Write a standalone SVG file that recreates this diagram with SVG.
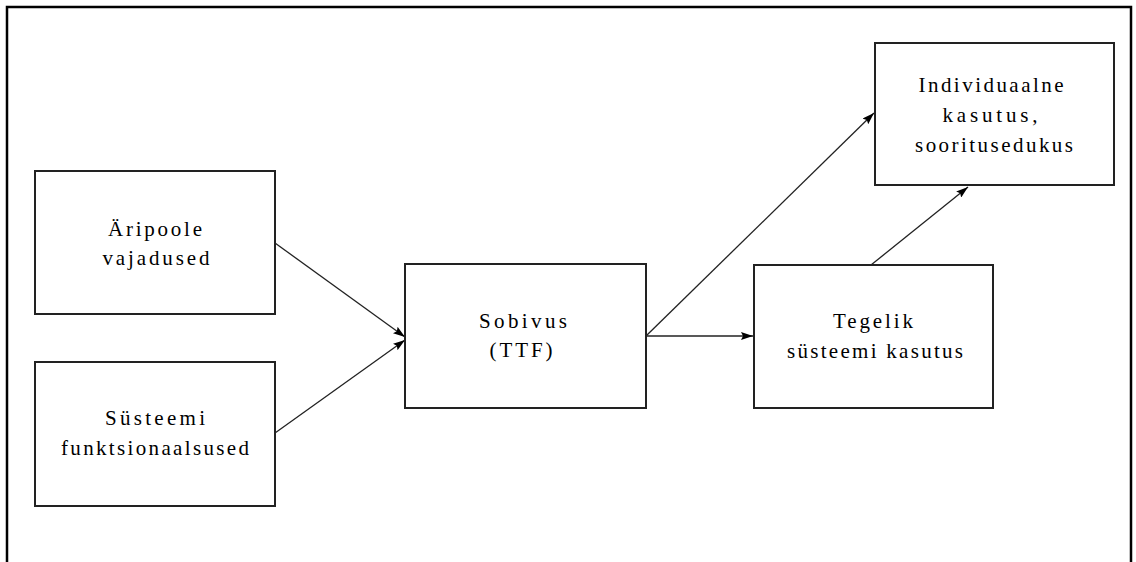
<svg xmlns="http://www.w3.org/2000/svg" width="1136" height="562" viewBox="0 0 1136 562">
<defs>
<style>
.box{fill:#fff;stroke:#222;stroke-width:2}
.t{font-family:"Liberation Serif","Times New Roman",serif;font-size:21px;fill:#000;text-anchor:middle}
.c{stroke:#222;stroke-width:1.3;fill:none;marker-end:url(#ah)}
</style>
<marker id="ah" viewBox="0 0 12 8" refX="12" refY="4" markerWidth="12" markerHeight="8" markerUnits="userSpaceOnUse" orient="auto">
<path d="M0,0 L12,4 L0,8 L2,4 Z" fill="#000"/>
</marker>
</defs>
<rect x="0" y="0" width="1136" height="562" fill="#fff"/>
<rect x="7" y="7" width="1124" height="600" fill="none" stroke="#000" stroke-width="2.5"/>
<g id="connectors">
<line class="c" x1="275" y1="243" x2="405" y2="337"/>
<line class="c" x1="275" y1="433" x2="405" y2="340"/>
<line class="c" x1="646" y1="336" x2="874" y2="113"/>
<line class="c" x1="646" y1="336" x2="753" y2="336"/>
<line class="c" x1="871" y1="265" x2="968" y2="187"/>
</g>
<g id="n1">
<rect class="box" x="35" y="171" width="240" height="143"/>
<text class="t" x="155" y="236" textLength="94" lengthAdjust="spacing">Äripoole</text>
<text class="t" x="156" y="265" textLength="107" lengthAdjust="spacing">vajadused</text>
</g>
<g id="n2">
<rect class="box" x="35" y="362" width="240" height="144"/>
<text class="t" x="155" y="425" textLength="100" lengthAdjust="spacing">Süsteemi</text>
<text class="t" x="155" y="455" textLength="188" lengthAdjust="spacing">funktsionaalsused</text>
</g>
<g id="n3">
<rect class="box" x="405" y="264" width="241" height="144"/>
<text class="t" x="523" y="328" textLength="88" lengthAdjust="spacing">Sobivus</text>
<text class="t" x="521" y="357" textLength="63" lengthAdjust="spacing">(TTF)</text>
</g>
<g id="n4">
<rect class="box" x="754" y="265" width="239" height="143"/>
<text class="t" x="873" y="328" textLength="80" lengthAdjust="spacing">Tegelik</text>
<text class="t" x="875" y="358" textLength="176" lengthAdjust="spacing">süsteemi kasutus</text>
</g>
<g id="n5">
<rect class="box" x="875" y="43" width="239" height="142"/>
<text class="t" x="991" y="92" textLength="145" lengthAdjust="spacing">Individuaalne</text>
<text class="t" x="990" y="122" textLength="95" lengthAdjust="spacing">kasutus,</text>
<text class="t" x="994" y="152" textLength="158" lengthAdjust="spacing">sooritusedukus</text>
</g>
</svg>
